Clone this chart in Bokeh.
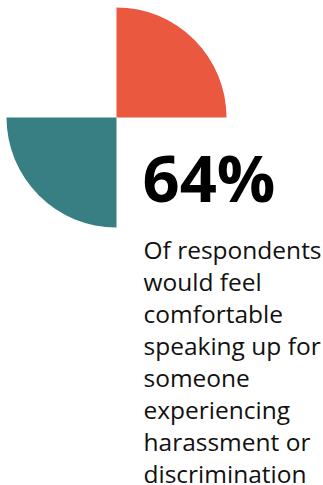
from bokeh.plotting import figure
from bokeh.models import Range1d, ColumnDataSource
from bokeh.core.properties import value
from bokeh.embed import file_html
from bokeh.resources import INLINE

# Data
share_pct = 64
segments = ["highlight", "base"]
segment_colors = ["#EB5840", "#377F82"]
segment_start_deg = [0, 180]
segment_end_deg = [90, 270]
headline = f"{share_pct}%"
caption_lines = [
    "Of respondents",
    "would feel",
    "comfortable",
    "speaking up for",
    "someone",
    "experiencing",
    "harassment or",
    "discrimination",
]

W, H = 323, 485
p = figure(width=W, height=H, output_backend="svg", toolbar_location=None,
           x_range=Range1d(0, W), y_range=Range1d(-H, 0),
           min_border=0, outline_line_color=None)
p.axis.visible = False
p.grid.visible = False
p.background_fill_color = "white"
p.border_fill_color = "white"

cx, cy, r = 116, -117, 110
src = ColumnDataSource(dict(
    seg=segments, color=segment_colors,
    start=segment_start_deg, end=segment_end_deg,
))
p.wedge(x=cx, y=cy, radius=r, start_angle="start", end_angle="end",
        start_angle_units="deg", end_angle_units="deg",
        color="color", line_color=None, source=src)

p.text(x=[142], y=[-176], text=[headline], text_font=value("Open Sans"),
       text_font_style="bold", text_font_size="65px", text_color="#000000",
       text_baseline="alphabetic", text_align="left")

lh = 32
base = -249
p.text(x=[143] * len(caption_lines),
       y=[base - i * lh for i in range(len(caption_lines))],
       text=caption_lines, text_font=value("Open Sans"),
       text_font_size="24.5px", text_color="#111111",
       text_baseline="alphabetic", text_align="left")

open("out.html", "w").write(file_html(p, INLINE))
